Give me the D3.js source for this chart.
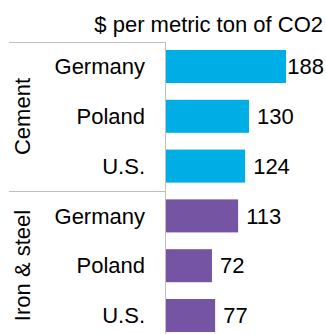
<!DOCTYPE html>
<html><head><meta charset="utf-8">
<script src="https://cdn.jsdelivr.net/npm/d3@7"></script>
<style>
html,body{margin:0;padding:0;background:#fff;}
svg text{font-family:"Liberation Sans",Arial,sans-serif;fill:#000;}
</style></head>
<body><svg id="c" width="326" height="334"></svg>
<script>
const groups = ["Cement", "Iron & steel"];
const countries = ["Germany", "Poland", "U.S."];
const cementValues = [188, 130, 124];
const steelValues = [113, 72, 77];
const title = "$ per metric ton of CO2";
const groupColors = ["#00AEE6", "#7654A4"];

const rows = [];
groups.forEach((g, gi) => {
  const vals = gi === 0 ? cementValues : steelValues;
  countries.forEach((c, ci) => rows.push({key: g + "|" + c, group: g, gi, country: c, value: vals[ci]}));
});

const W = 326, H = 334;
const svg = d3.select("#c");
const x0 = 166;
const x = d3.scaleLinear().domain([0, 188]).range([x0, 286]);
const y = d3.scaleBand().domain(rows.map(d => d.key))
  .range([42, 340]).paddingInner(0.337).paddingOuter(0.16);
const FS = 22;

svg.append("text").attr("x", 323).attr("y", 32).attr("text-anchor", "end")
  .style("font-size", FS + "px").text(title);

const lineColor = "#BFBFBF";
const sepY = (y(rows[2].key) + y.bandwidth() + y(rows[3].key)) / 2;
svg.append("line").attr("x1", 9).attr("x2", x0 - 0.5).attr("y1", 42.5).attr("y2", 42.5)
  .attr("stroke", lineColor).attr("stroke-width", 1);
svg.append("line").attr("x1", 9).attr("x2", x0 - 0.5).attr("y1", Math.round(sepY) + 0.5).attr("y2", Math.round(sepY) + 0.5)
  .attr("stroke", lineColor).attr("stroke-width", 1);
svg.append("line").attr("x1", x0 - 0.5).attr("x2", x0 - 0.5).attr("y1", 42).attr("y2", H)
  .attr("stroke", lineColor).attr("stroke-width", 1);

svg.selectAll("rect.bar").data(rows).join("rect").attr("class", "bar")
  .attr("x", x0).attr("y", d => y(d.key))
  .attr("width", d => x(d.value) - x0).attr("height", y.bandwidth())
  .attr("fill", d => groupColors[d.gi]);

svg.selectAll("text.cat").data(rows).join("text").attr("class", "cat")
  .attr("x", 145).attr("y", d => y(d.key) + y.bandwidth() / 2).attr("dy", "0.35em")
  .attr("text-anchor", "end").style("font-size", FS + "px").text(d => d.country);

const vl = svg.selectAll("text.val").data(rows).join("text").attr("class", "val")
  .attr("y", d => y(d.key) + y.bandwidth() / 2).attr("dy", "0.35em")
  .style("font-size", FS + "px").text(d => d.value);
vl.each(function(d) {
  const w = this.getComputedTextLength();
  d3.select(this).attr("x", Math.min(x(d.value) + 8, 324 - w));
});

const groupBounds = [[42, sepY], [sepY, H + 6]];
svg.selectAll("text.grp").data(groups).join("text").attr("class", "grp")
  .attr("transform", (g, i) => `translate(30,${(groupBounds[i][0] + groupBounds[i][1]) / 2}) rotate(-90)`)
  .attr("text-anchor", "middle").style("font-size", FS + "px").text(g => g);
</script></body></html>
